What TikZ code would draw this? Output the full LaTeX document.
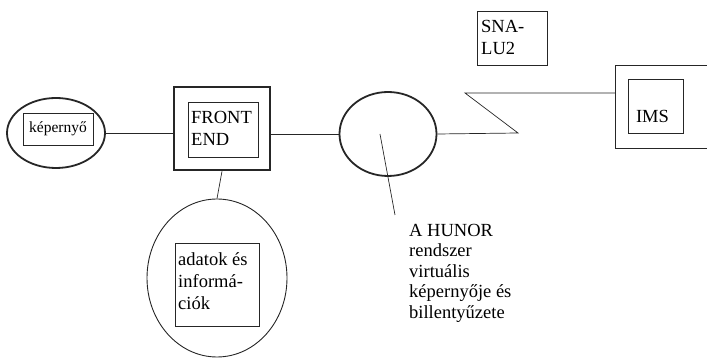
\documentclass[tikz,border=0pt]{standalone}
\usepackage{fontspec}
\setmainfont{Liberation Serif}
\usetikzlibrary{shapes.geometric}
\begin{document}
\begin{tikzpicture}[x=1pt,y=-1pt,
  ink/.style={draw=black!85},
  conn/.style={ink,line width=0.7pt},
  thickell/.style={ellipse,ink,line width=1.8pt,inner sep=0pt},
  thinell/.style={ellipse,ink,line width=0.9pt,inner sep=0pt},
  box/.style={rectangle,ink,line width=0.7pt,inner sep=0pt},
  txt/.style={font=\fontsize{18.5}{22}\selectfont,align=left,inner sep=0pt}]
\useasboundingbox (0,0) rectangle (707,363);

% screen on the left
\node[thickell,minimum width=98pt,minimum height=70pt] (kep) at (56,133) {};
\node[box,minimum width=70pt,minimum height=32pt,
      font=\fontsize{15.5}{18}\selectfont] (kepbox) at (58,129) {képernyő};

% front end processor
\node[box,line width=2.6pt,minimum width=96pt,minimum height=83pt] (fe) at (222,128.5) {};
\node[box,minimum width=70pt,minimum height=55pt] (febox) at (223,129.5) {};
\node[txt,anchor=west] (fetext) at (191,128) {FRONT\\END};

% data and information store
\node[thinell,minimum width=140pt,minimum height=158pt] (adat) at (217,278) {};
\node[box,minimum width=84pt,minimum height=83pt] (adatbox) at (217,284.5) {};
\node[txt,anchor=west] (adattext) at (178,281) {adatok és\\informá-\\ciók};

% virtual screen of HUNOR
\node[thickell,minimum width=97pt,minimum height=84pt] (hunor) at (388,134) {};

% SNA link label
\node[box,minimum width=70pt,minimum height=54pt] (sna) at (512,38) {};
\node[txt,anchor=west] (snatext) at (481,37) {SNA-\\LU2};

% IMS host
\node[box,minimum width=110pt,minimum height=83pt,anchor=west] (ims) at (615,106.5) {};
\node[box,minimum width=55pt,minimum height=54pt] (imsbox) at (655.5,106) {};
\node[font=\fontsize{18.5}{22}\selectfont,inner sep=0pt,anchor=base] (imstext) at (652.5,123) {IMS};

% connectors
\draw[conn] (kep.east) -- (kep.east -| fe.west);
\draw[conn] (fe.south) -- (adat.north);
\draw[conn] (hunor.west -| fe.east) -- (hunor.west);
\coordinate (zA) at (518,133);
\coordinate (zB) at (465,93);
\draw[conn] (hunor.east) -- (zA) -- (zB) -- (zB -| ims.west);

% pointer to the description
\coordinate (ptr) at (395,215);
\draw[conn] (380,134) -- (ptr);
\node[txt,anchor=north west,font=\fontsize{18.5}{20.5}\selectfont] (hunortext) at (409,224)
  {A HUNOR\\rendszer\\virtuális\\képernyője és\\billentyűzete};
\end{tikzpicture}
\end{document}
